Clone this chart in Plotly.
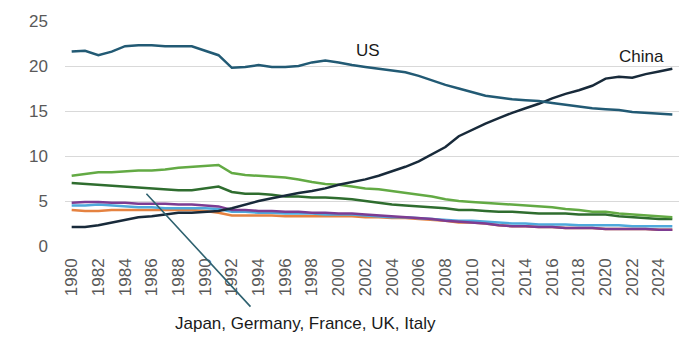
import plotly.graph_objects as go

years = list(range(1980, 2026))

us = [21.6, 21.7, 21.2, 21.6, 22.2, 22.3, 22.3, 22.2, 22.2, 22.2, 21.7, 21.2,
      19.8, 19.9, 20.1, 19.9, 19.9, 20.0, 20.4, 20.6, 20.4, 20.1, 19.9, 19.7,
      19.5, 19.3, 18.9, 18.4, 17.9, 17.5, 17.1, 16.7, 16.5, 16.3, 16.2, 16.1,
      15.9, 15.7, 15.5, 15.3, 15.2, 15.1, 14.9, 14.8, 14.7, 14.6]
china = [2.1, 2.1, 2.3, 2.6, 2.9, 3.2, 3.3, 3.5, 3.7, 3.7, 3.8, 3.9,
         4.2, 4.6, 5.0, 5.3, 5.6, 5.9, 6.1, 6.4, 6.8, 7.1, 7.4, 7.8,
         8.3, 8.8, 9.4, 10.2, 11.0, 12.2, 12.9, 13.6, 14.2, 14.8, 15.3, 15.8,
         16.4, 16.9, 17.3, 17.8, 18.6, 18.8, 18.7, 19.1, 19.4, 19.7]
japan = [7.8, 8.0, 8.2, 8.2, 8.3, 8.4, 8.4, 8.5, 8.7, 8.8, 8.9, 9.0,
         8.1, 7.9, 7.8, 7.7, 7.6, 7.4, 7.1, 6.9, 6.8, 6.6, 6.4, 6.3,
         6.1, 5.9, 5.7, 5.5, 5.2, 5.0, 4.9, 4.8, 4.7, 4.6, 4.5, 4.4,
         4.3, 4.1, 4.0, 3.8, 3.8, 3.6, 3.5, 3.4, 3.3, 3.2]
germany = [7.0, 6.9, 6.8, 6.7, 6.6, 6.5, 6.4, 6.3, 6.2, 6.2, 6.4, 6.6,
           6.0, 5.8, 5.8, 5.7, 5.5, 5.5, 5.4, 5.4, 5.3, 5.2, 5.0, 4.8,
           4.6, 4.5, 4.4, 4.3, 4.2, 4.0, 4.0, 3.9, 3.8, 3.8, 3.7, 3.6,
           3.6, 3.6, 3.5, 3.5, 3.5, 3.3, 3.2, 3.1, 3.0, 3.0]
france = [4.8, 4.9, 4.9, 4.8, 4.8, 4.7, 4.7, 4.7, 4.6, 4.6, 4.5, 4.4,
          4.0, 4.0, 3.9, 3.9, 3.8, 3.8, 3.7, 3.7, 3.6, 3.6, 3.5, 3.4,
          3.3, 3.2, 3.1, 3.0, 2.8, 2.7, 2.6, 2.5, 2.3, 2.2, 2.2, 2.1,
          2.1, 2.0, 2.0, 2.0, 1.9, 1.9, 1.9, 1.9, 1.8, 1.8]
uk = [4.5, 4.5, 4.6, 4.5, 4.4, 4.3, 4.3, 4.2, 4.2, 4.2, 4.2, 4.1,
      3.8, 3.8, 3.7, 3.7, 3.6, 3.6, 3.6, 3.5, 3.5, 3.5, 3.4, 3.3,
      3.2, 3.2, 3.1, 3.0, 2.9, 2.8, 2.8, 2.7, 2.6, 2.5, 2.5, 2.4,
      2.4, 2.4, 2.3, 2.3, 2.3, 2.3, 2.2, 2.2, 2.2, 2.2]
italy = [4.0, 3.9, 3.9, 4.0, 4.0, 4.0, 4.0, 4.0, 4.0, 4.0, 3.9, 3.7,
         3.4, 3.4, 3.4, 3.4, 3.3, 3.3, 3.3, 3.3, 3.3, 3.3, 3.2, 3.2,
         3.1, 3.1, 3.0, 2.9, 2.8, 2.6, 2.6, 2.5, 2.3, 2.2, 2.2, 2.1,
         2.1, 2.0, 2.0, 2.0, 1.9, 1.9, 1.9, 1.9, 1.8, 1.8]

x_ticks = list(range(1980, 2025, 2))
y_ticks = [0, 5, 10, 15, 20, 25]

series = [
    ("Italy", italy, "#e58240"),
    ("UK", uk, "#4fa9dc"),
    ("France", france, "#7d3c92"),
    ("Germany", germany, "#2f6d2f"),
    ("Japan", japan, "#63aa44"),
    ("China", china, "#182a3a"),
    ("US", us, "#225a74"),
]

fig = go.Figure()
for name, vals, color in series:
    fig.add_trace(go.Scatter(x=years, y=vals, mode="lines", name=name,
                             line=dict(color=color, width=2.5)))

font_family = "Liberation Sans, Arial, sans-serif"

fig.update_layout(
    width=700, height=345,
    margin=dict(l=65, r=21, t=15, b=99),
    paper_bgcolor="white", plot_bgcolor="white",
    showlegend=False,
    font=dict(family=font_family, color="#595959"),
    xaxis=dict(range=[1979.5, 2025.5], tickvals=x_ticks,
               ticktext=[str(t) for t in x_ticks], tickangle=-90,
               showgrid=False, zeroline=False, showline=False,
               tickfont=dict(size=17, color="#595959"), ticks="",
               ticklabelstandoff=8),
    yaxis=dict(range=[0, 25], tickvals=y_ticks, showgrid=True,
               gridcolor="#d9d9d9", gridwidth=1, zeroline=False,
               showline=False, tickfont=dict(size=17, color="#595959"),
               ticks="", ticklabelstandoff=16),
)

fig.add_annotation(x=2002.2, y=21.7, text="US", showarrow=False,
                   font=dict(size=17, color="#1a1a1a", family=font_family))
fig.add_annotation(x=2022.7, y=21.1, text="China", showarrow=False,
                   font=dict(size=17, color="#1a1a1a", family=font_family))

# callout line pointing at the cluster of smaller economies
fig.add_annotation(x=1985.6, y=5.8, ax=1993.5, ay=-6.9,
                   xref="x", yref="y", axref="x", ayref="y",
                   text="", showarrow=True, arrowhead=0, arrowwidth=1.6,
                   arrowcolor="#2f6270", standoff=0, startstandoff=0)
fig.add_annotation(x=1997.5, xref="x", y=-0.343, yref="paper",
                   yanchor="middle",
                   text="Japan, Germany, France, UK, Italy", showarrow=False,
                   font=dict(size=17, color="#1a1a1a", family=font_family))

fig.write_html("out.html")
